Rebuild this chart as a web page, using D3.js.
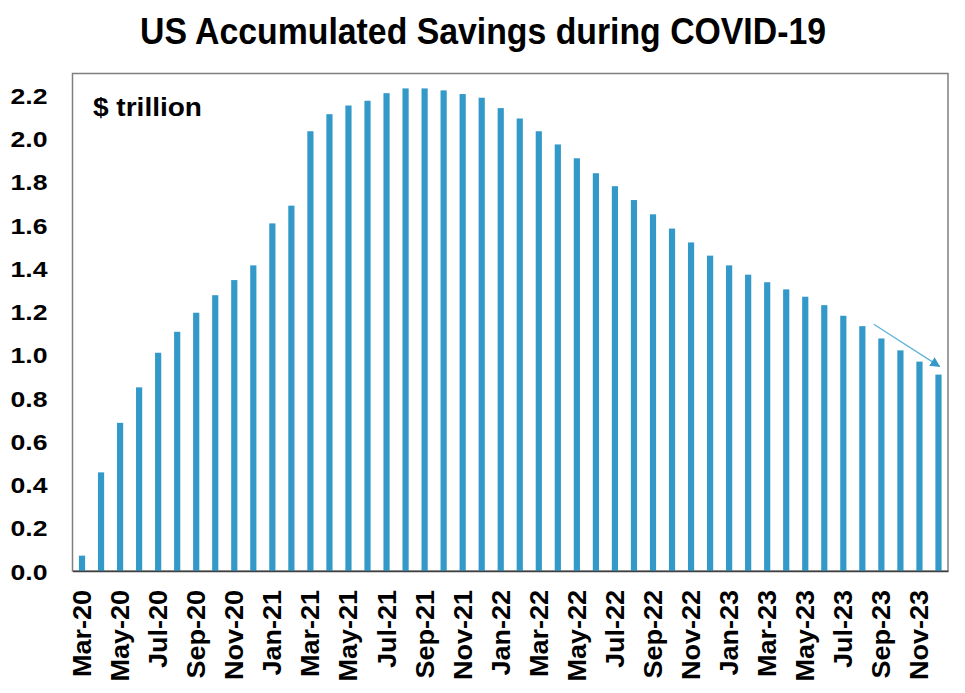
<!DOCTYPE html>
<html>
<head>
<meta charset="utf-8">
<script src="https://cdn.jsdelivr.net/npm/d3@7"></script>
<style>
  html, body { margin: 0; padding: 0; background: #ffffff; }
  svg { display: block; }
  text { font-family: "Liberation Sans", Arial, sans-serif; font-weight: bold; fill: #000; }
</style>
</head>
<body>
<svg id="chart" width="965" height="693"></svg>
<script>
// ---- Data ----
const months = [
  "Mar-20","Apr-20","May-20","Jun-20","Jul-20","Aug-20","Sep-20","Oct-20","Nov-20","Dec-20",
  "Jan-21","Feb-21","Mar-21","Apr-21","May-21","Jun-21","Jul-21","Aug-21","Sep-21","Oct-21","Nov-21","Dec-21",
  "Jan-22","Feb-22","Mar-22","Apr-22","May-22","Jun-22","Jul-22","Aug-22","Sep-22","Oct-22","Nov-22","Dec-22",
  "Jan-23","Feb-23","Mar-23","Apr-23","May-23","Jun-23","Jul-23","Aug-23","Sep-23","Oct-23","Nov-23","Dec-23"
];
const savings = [
  0.071, 0.456, 0.685, 0.849, 1.009, 1.106, 1.194, 1.275, 1.345, 1.413,
  1.607, 1.689, 2.033, 2.112, 2.152, 2.174, 2.209, 2.231, 2.231, 2.222, 2.205, 2.188,
  2.140, 2.092, 2.033, 1.972, 1.908, 1.839, 1.779, 1.715, 1.649, 1.583, 1.519, 1.458,
  1.413, 1.370, 1.335, 1.302, 1.268, 1.229, 1.180, 1.132, 1.075, 1.020, 0.968, 0.908
];
const yTicks = [0, 0.2, 0.4, 0.6, 0.8, 1.0, 1.2, 1.4, 1.6, 1.8, 2.0, 2.2];
const xTickLabels = months.filter((d, i) => i % 2 === 0);
const titleText = "US Accumulated Savings during COVID-19";
const unitText = "$ trillion";
// annotation arrow in (bar index, value) units
const arrowFrom = [41.6, 1.141];
const arrowTo = [45.05, 0.946];

// ---- Layout ----
const svg = d3.select("#chart");
const plot = { left: 72.5, right: 948, top: 73.5, bottom: 571 };
const barColor = "#3399c8";

const x = d3.scaleBand().domain(months).range([plot.left, plot.right])
  .paddingInner(0.675).paddingOuter(0.3375);
const y = d3.scaleLinear().domain([0, 2.3]).range([plot.bottom, plot.top]);
const xIdx = d3.scaleLinear().domain([0, months.length - 1])
  .range([x(months[0]) + x.bandwidth() / 2, x(months[months.length - 1]) + x.bandwidth() / 2]);

// Title
svg.append("text")
  .attr("x", 483).attr("y", 44)
  .attr("text-anchor", "middle")
  .attr("font-size", 37)
  .attr("textLength", 686).attr("lengthAdjust", "spacingAndGlyphs")
  .text(titleText);

// Plot frame
svg.append("rect")
  .attr("x", plot.left).attr("y", plot.top)
  .attr("width", plot.right - plot.left).attr("height", plot.bottom - plot.top)
  .attr("fill", "none").attr("stroke", "#7f7f7f").attr("stroke-width", 1.5);

// Bars
svg.append("g").selectAll("rect")
  .data(months.map((m, i) => ({ m, v: savings[i] })))
  .join("rect")
  .attr("x", d => x(d.m))
  .attr("width", x.bandwidth())
  .attr("y", d => y(d.v))
  .attr("height", d => y(0) - y(d.v))
  .attr("fill", barColor);

// Y axis
const yAxis = svg.append("g")
  .attr("transform", `translate(${plot.left},0)`)
  .call(d3.axisLeft(y).tickValues(yTicks).tickFormat(d3.format(".1f")).tickSize(0).tickPadding(25));
yAxis.select(".domain").remove();
yAxis.selectAll("text")
  .attr("font-size", 22.5)
  .attr("font-family", "'Liberation Sans', Arial, sans-serif")
  .attr("font-weight", "bold")
  .attr("fill", "#000")
  .attr("textLength", 37).attr("lengthAdjust", "spacingAndGlyphs")
  .attr("dy", "0.36em");

// X axis
const xAxis = svg.append("g")
  .attr("transform", `translate(0,${plot.bottom})`)
  .call(d3.axisBottom(x).tickValues(xTickLabels).tickSize(0).tickPadding(0));
xAxis.select(".domain").attr("stroke", "#404040").attr("stroke-width", 1.5);
xAxis.selectAll("text")
  .attr("font-size", 25)
  .attr("font-family", "'Liberation Sans', Arial, sans-serif")
  .attr("font-weight", "bold")
  .attr("fill", "#000")
  .attr("text-anchor", "end")
  .attr("transform", "translate(0,19) rotate(-90)")
  .attr("x", 0).attr("y", 0)
  .attr("dy", "0.36em")
  .each(function () {
    const w = this.getComputedTextLength();
    d3.select(this).attr("textLength", w * 1.08).attr("lengthAdjust", "spacingAndGlyphs");
  });

// Unit label
svg.append("text")
  .attr("x", 93).attr("y", 116)
  .attr("font-size", 26)
  .attr("textLength", 109).attr("lengthAdjust", "spacingAndGlyphs")
  .text(unitText);

// Arrow annotation
const defs = svg.append("defs");
defs.append("marker")
  .attr("id", "arrowhead")
  .attr("viewBox", "0 0 10 10")
  .attr("refX", 9).attr("refY", 5)
  .attr("markerWidth", 10).attr("markerHeight", 10)
  .attr("markerUnits", "userSpaceOnUse")
  .attr("orient", "auto")
  .append("path").attr("d", "M0,0 L10,5 L0,10 Z").attr("fill", barColor);

svg.append("line")
  .attr("x1", xIdx(arrowFrom[0])).attr("y1", y(arrowFrom[1]))
  .attr("x2", xIdx(arrowTo[0])).attr("y2", y(arrowTo[1]))
  .attr("stroke", "#5ab2da").attr("stroke-width", 1.2)
  .attr("marker-end", "url(#arrowhead)");
</script>
</body>
</html>
